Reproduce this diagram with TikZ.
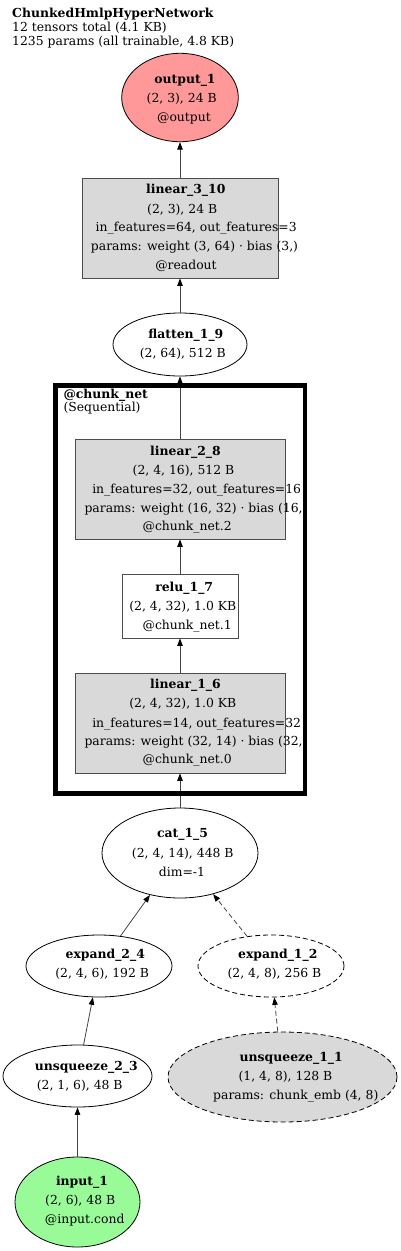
\documentclass[tikz,border=0pt]{standalone}
\usepackage{fontspec}
\setmainfont{DejaVu Serif}
\usetikzlibrary{arrows.meta,shapes.geometric}
\definecolor{outfill}{HTML}{FF9999}
\definecolor{infill}{HTML}{98FB98}
\definecolor{opfill}{HTML}{D9D9D9}
\definecolor{edgec}{HTML}{444444}
\pgfdeclarelayer{fg}
\pgfsetlayers{main,fg}
\begin{document}
\begin{tikzpicture}[x=1pt,y=-1pt,
  ell/.style={draw=black,ellipse,inner sep=0pt,line width=0.8pt},
  box/.style={draw=black!70,rectangle,inner sep=0pt,line width=0.8pt,fill=opfill},
  txt/.style={inner sep=0pt,anchor=base,yshift=-4.6pt,font=\fontsize{12.4}{14}\selectfont},
  btxt/.style={txt,font=\fontsize{12.4}{14}\selectfont\bfseries},
  edge/.style={draw=edgec,line width=0.8pt,-{Triangle[length=7.5pt,width=5.5pt,color=black]}},
  dedge/.style={edge,dash pattern=on 5pt off 3pt},
  ]
\useasboundingbox (0,0) rectangle (400,1251);
\fill[white] (0,0) rectangle (400,1251);

% title
\node[btxt,anchor=base west] (title) at (12,13.3) {ChunkedHmlpHyperNetwork};
\node[txt,anchor=base west] (title2) at (12,26.5) {12 tensors total (4.1 KB)};
\node[txt,anchor=base west] (title3) at (12,41) {1235 params (all trainable, 4.8 KB)};

% shapes
\node[ell,fill=outfill,minimum width=116.6pt,minimum height=88.4pt] (out) at (180,97.5) {};
\node[box,minimum width=196pt,minimum height=100pt] (l310) at (180,228) {};
\node[ell,fill=white,minimum width=134pt,minimum height=63pt] (flat) at (180,344.5) {};
\node[box,minimum width=210pt,minimum height=100pt] (l28) at (180,489) {};
\node[box,fill=white,minimum width=116pt,minimum height=64pt] (relu) at (180,606) {};
\node[box,minimum width=210pt,minimum height=100pt] (l16) at (180,723) {};
\node[ell,fill=white,minimum width=156pt,minimum height=90pt] (cat) at (180,853) {};
\node[ell,fill=white,minimum width=146pt,minimum height=62pt] (ex24) at (99,966) {};
\node[ell,fill=white,dash pattern=on 5pt off 3pt,minimum width=146pt,minimum height=62pt] (ex12) at (271,966) {};
\node[ell,fill=white,minimum width=149pt,minimum height=62pt] (un23) at (77.5,1076) {};
\node[ell,fill=opfill,dash pattern=on 5pt off 3pt,minimum width=229pt,minimum height=90pt] (un11) at (282.5,1077) {};
\node[ell,fill=infill,minimum width=125pt,minimum height=90pt] (inp) at (77.5,1202) {};

% edges
\draw[edge] (inp) -- (un23);
\draw[edge] (un23) -- (ex24);
\draw[dedge] (un11) -- (ex12);
\draw[edge] (ex24) -- (cat);
\draw[dedge] (ex12) -- (cat);
\draw[edge] (cat) -- (l16);
\draw[edge] (l16) -- (relu);
\draw[edge] (relu) -- (l28);
\draw[edge] (l28) -- (flat);
\draw[edge] (flat) -- (l310);
\draw[edge] (l310) -- (out);

% texts
\node[btxt] (t-out1) at (185,79) {output\_1};
\node[txt] (t-out2) at (181.7,98) {(2, 3), 24 B};
\node[txt] (t-out3) at (184,117) {@output};

\node[btxt] (t-l310a) at (185.8,189.3) {linear\_3\_10};
\node[txt] (t-l310b) at (182.2,209) {(2, 3), 24 B};
\node[txt] (t-l310c) at (196.2,227.3) {in\_features=64, out\_features=3};
\node[txt] (t-l310d) at (194.5,246) {params: weight (3, 64) · bias (3,)};
\node[txt] (t-l310e) at (186,265) {@readout};

\node[btxt] (t-flat1) at (185.8,334) {flatten\_1\_9};
\node[txt] (t-flat2) at (182.8,353.3) {(2, 64), 512 B};

\node[btxt,anchor=base west] (t-cl1) at (63.3,394) {@chunk\_net};
\node[txt,anchor=base west] (t-cl2) at (63.3,407.3) {(Sequential)};

\node[btxt] (t-l28a) at (185.5,451) {linear\_2\_8};
\node[txt] (t-l28b) at (183.5,470) {(2, 4, 16), 512 B};
\node[txt] (t-l28c) at (196.7,489) {in\_features=32, out\_features=16};
\node[txt] (t-l28d) at (196,508) {params: weight (16, 32) · bias (16,)};
\node[txt] (t-l28e) at (187.2,526) {@chunk\_net.2};

\node[btxt] (t-relu1) at (184.2,587) {relu\_1\_7};
\node[txt] (t-relu2) at (182.8,606) {(2, 4, 32), 1.0 KB};
\node[txt] (t-relu3) at (187.2,625) {@chunk\_net.1};

\node[btxt] (t-l16a) at (185.5,684.3) {linear\_1\_6};
\node[txt] (t-l16b) at (182.8,703.3) {(2, 4, 32), 1.0 KB};
\node[txt] (t-l16c) at (196.7,722.7) {in\_features=14, out\_features=32};
\node[txt] (t-l16d) at (196,741) {params: weight (32, 14) · bias (32,)};
\node[txt] (t-l16e) at (187.2,759.3) {@chunk\_net.0};

\node[btxt] (t-cat1) at (182.5,833.3) {cat\_1\_5};
\node[txt] (t-cat2) at (182.8,852.7) {(2, 4, 14), 448 B};
\node[txt] (t-cat3) at (182,871.7) {dim=-1};

\node[btxt] (t-ex24a) at (105.3,954) {expand\_2\_4};
\node[txt] (t-ex24b) at (102.2,973.3) {(2, 4, 6), 192 B};

\node[btxt] (t-ex12a) at (277.8,954) {expand\_1\_2};
\node[txt] (t-ex12b) at (274.5,973.3) {(2, 4, 8), 256 B};

\node[btxt] (t-un23a) at (86.3,1065.7) {unsqueeze\_2\_3};
\node[txt] (t-un23b) at (79.7,1085) {(2, 1, 6), 48 B};

\node[btxt] (t-un11a) at (291.2,1056.7) {unsqueeze\_1\_1};
\node[txt] (t-un11b) at (285.5,1076) {(1, 4, 8), 128 B};
\node[txt] (t-un11c) at (295.8,1095) {params: chunk\_emb (4, 8)};

\node[btxt] (t-inp1) at (82,1181) {input\_1};
\node[txt] (t-inp2) at (80.2,1200) {(2, 6), 48 B};
\node[txt] (t-inp3) at (84.7,1219.3) {@input.cond};

% cluster
\begin{pgfonlayer}{fg}
\node[draw=black,line width=4.5pt,rectangle,inner sep=0pt,minimum width=249.5pt,minimum height=408pt] (cluster) at (180.25,589.5) {};
\end{pgfonlayer}
\end{tikzpicture}
\end{document}
